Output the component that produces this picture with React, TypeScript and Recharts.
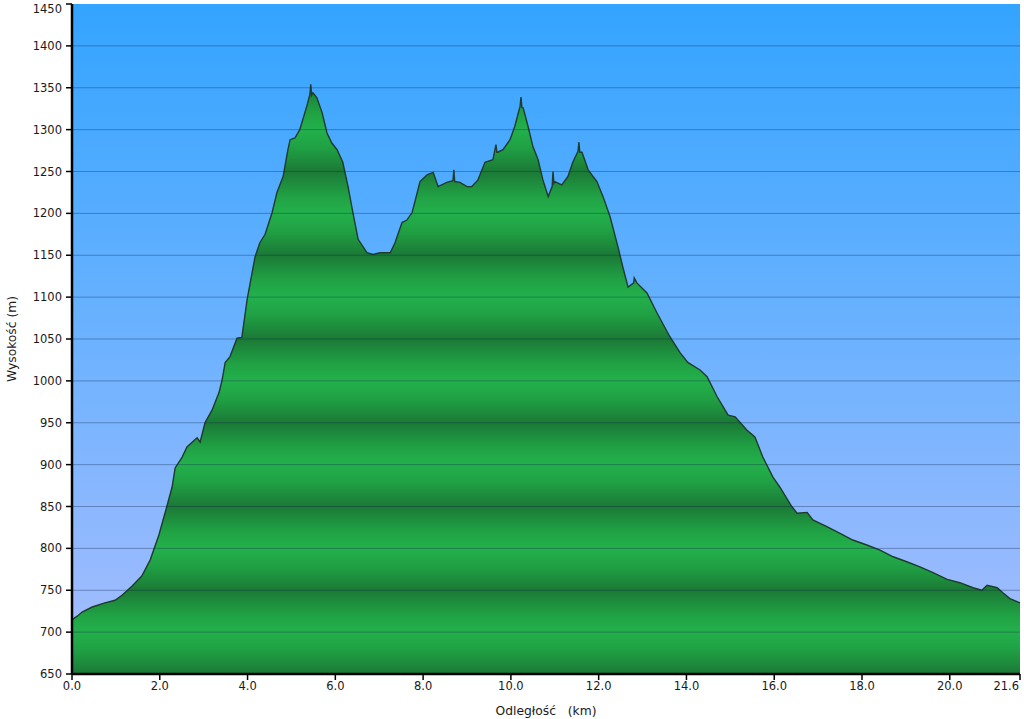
import {
  AreaChart,
  Area,
  XAxis,
  YAxis,
  CartesianGrid,
  ReferenceLine,
} from "recharts";

// Elevation profile: distance (km) vs altitude (m).
const distanceKm = [
  0.0, 0.12, 0.23, 0.46, 0.75, 0.98, 1.14, 1.37, 1.59, 1.78, 1.98,
  2.16, 2.28, 2.35, 2.51, 2.62, 2.85, 2.92, 3.03, 3.19, 3.35,
  3.42, 3.49, 3.6, 3.76, 3.87, 3.99, 4.17, 4.28, 4.4, 4.56,
  4.67, 4.81, 4.92, 4.97, 5.08, 5.19, 5.35, 5.42, 5.44, 5.46, 5.49,
  5.58, 5.7, 5.81, 5.92, 6.04, 6.17, 6.29, 6.4, 6.52, 6.72,
  6.86, 7.02, 7.25, 7.36, 7.52, 7.63, 7.75, 7.93, 8.09, 8.23,
  8.34, 8.54, 8.68, 8.7, 8.72, 8.84, 9.0, 9.11, 9.25, 9.41, 9.59,
  9.66, 9.68, 9.7, 9.82, 9.98, 10.09, 10.21, 10.23, 10.25, 10.28, 10.39,
  10.5, 10.62, 10.73, 10.85, 10.94, 10.96, 10.98, 11.0, 11.16, 11.3,
  11.41, 11.53, 11.55, 11.57, 11.62, 11.76, 11.96, 12.1, 12.26, 12.44,
  12.55, 12.67, 12.8, 12.81, 12.87, 13.1, 13.33, 13.62, 13.85, 14.03,
  14.31, 14.47, 14.7, 14.95, 15.11, 15.38, 15.56, 15.74, 15.97, 16.13,
  16.4, 16.52, 16.75, 16.88, 17.2, 17.5, 17.79, 18.11, 18.41, 18.71,
  19.02, 19.32, 19.62, 19.94, 20.23, 20.53, 20.73, 20.85, 21.08, 21.21,
  21.37, 21.6,
];

const elevationM = [
  715, 719, 724, 730, 735, 738, 744, 755, 767, 786, 816,
  850, 873, 896, 909, 921, 932, 927, 950, 965, 986,
  1001, 1022, 1029, 1051, 1052, 1097, 1148, 1165, 1175, 1201,
  1225, 1244, 1276, 1288, 1290, 1300, 1328, 1342, 1354, 1341, 1344,
  1338, 1320, 1296, 1284, 1276, 1261, 1232, 1201, 1169, 1153,
  1151, 1153, 1153, 1165, 1189, 1192, 1201, 1238, 1246, 1249,
  1232, 1237, 1239, 1252, 1238, 1237, 1232, 1232, 1240, 1261, 1264,
  1282, 1273, 1273, 1276, 1288, 1304, 1328, 1339, 1327, 1326, 1304,
  1280, 1264, 1240, 1220, 1232, 1250, 1236, 1238, 1234, 1244,
  1261, 1274, 1285, 1273, 1273, 1252, 1238, 1220, 1196, 1160,
  1136, 1112, 1117, 1123, 1117, 1105, 1081, 1053, 1034, 1022,
  1013, 1005, 981, 959, 957, 941, 933, 909, 885, 873,
  850, 842, 843, 834, 826, 818, 810, 804, 798, 790,
  784, 778, 771, 763, 759, 753, 750, 756, 753, 747,
  740, 735,
];

const xTicks = [0, 2, 4, 6, 8, 10, 12, 14, 16, 18, 20, 21.6];
const yTicks = [
  650, 700, 750, 800, 850, 900, 950, 1000, 1050, 1100, 1150, 1200, 1250,
  1300, 1350, 1400, 1450,
];

const data = distanceKm.map((d, i) => ({ km: d, elevation: elevationM[i] }));

const W = 1024;
const H = 719;
const TOP = 4;
const X_AXIS_H = 45;
const PLOT_H = H - TOP - X_AXIS_H;
const BAND_H = PLOT_H / 8; // one dark/light cycle per 100 m

const font = "'DejaVu Sans', Verdana, sans-serif";
const textColor = "#1a1a1a";
const fontSize = 11.5;
const labelSize = 12.3;

function XTick(props: any) {
  const { x, y, payload } = props;
  const last = payload.value === xTicks[xTicks.length - 1];
  return (
    <text
      x={last ? x - 1 : x}
      y={y}
      dy="0.71em"
      textAnchor={last ? "end" : "middle"}
      fontSize={fontSize}
      fontFamily={font}
      fill={textColor}
    >
      {Number(payload.value).toFixed(1)}
    </text>
  );
}

function YTick(props: any) {
  const { x, y, payload } = props;
  const top = payload.value === yTicks[yTicks.length - 1];
  return (
    <text
      x={x}
      y={top ? y + 5 : y}
      dy="0.355em"
      textAnchor="end"
      fontSize={fontSize}
      fontFamily={font}
      fill={textColor}
    >
      {payload.value}
    </text>
  );
}

export default function App() {
  return (
    <div style={{ position: "absolute", left: 0, top: 0, width: W, height: H }}>
      <AreaChart
        width={W}
        height={H}
        data={data}
        margin={{ top: TOP, right: 4, left: 0, bottom: 0 }}
      >
        <defs>
          <linearGradient id="sky" x1="0" y1="0" x2="0" y2="1">
            <stop offset="0%" stopColor="#33a4ff" />
            <stop offset="50%" stopColor="#6cb2ff" />
            <stop offset="100%" stopColor="#a9bdfe" />
          </linearGradient>
          <linearGradient id="bandGrad" x1="0" y1="0" x2="0" y2="1">
            <stop offset="0%" stopColor="#1b7936" />
            <stop offset="30%" stopColor="#20a244" />
            <stop offset="50%" stopColor="#23b04c" />
            <stop offset="70%" stopColor="#20a244" />
            <stop offset="100%" stopColor="#1b7936" />
          </linearGradient>
          <pattern
            id="bands"
            patternUnits="userSpaceOnUse"
            x={0}
            y={TOP}
            width={W}
            height={BAND_H}
          >
            <rect x={0} y={0} width={W} height={BAND_H} fill="url(#bandGrad)" />
          </pattern>
        </defs>
        <CartesianGrid
          horizontal={false}
          vertical={false}
          fill="url(#sky)"
          stroke="none"
        />
        <XAxis
          dataKey="km"
          type="number"
          domain={[0, 21.6]}
          ticks={xTicks}
          interval={0}
          height={X_AXIS_H}
          axisLine={{ stroke: "#000", strokeWidth: 2.5 }}
          tickLine={{ stroke: "#000", strokeWidth: 1.5 }}
          tickSize={6}
          tickMargin={2}
          tick={<XTick />}
          label={{
            value: "Odległość\u00a0\u00a0\u00a0(km)",
            position: "insideBottom",
            offset: 4,
            style: { fontSize: labelSize, fill: textColor, fontFamily: font },
          }}
        />
        <YAxis
          type="number"
          domain={[650, 1450]}
          ticks={yTicks}
          interval={0}
          allowDataOverflow
          width={72}
          axisLine={{ stroke: "#000", strokeWidth: 2.5 }}
          tickLine={{ stroke: "#000", strokeWidth: 1.5 }}
          tickSize={6}
          tickMargin={4}
          tick={<YTick />}
          label={{
            value: "Wysokość (m)",
            angle: -90,
            position: "insideLeft",
            offset: 12,
            style: { fontSize: labelSize, fill: textColor, fontFamily: font, textAnchor: "middle" },
          }}
        />
        <Area
          type="linear"
          dataKey="elevation"
          stroke="#1e3b2b"
          strokeWidth={1.4}
          fill="url(#bands)"
          fillOpacity={1}
          baseValue={650}
          isAnimationActive={false}
          dot={false}
          activeDot={false}
        />
        {yTicks.slice(1, -1).map((t) => (
          <ReferenceLine
            key={t}
            y={t}
            stroke="rgba(15,35,70,0.35)"
            strokeWidth={1}
            ifOverflow="hidden"
          />
        ))}
      </AreaChart>
    </div>
  );
}
